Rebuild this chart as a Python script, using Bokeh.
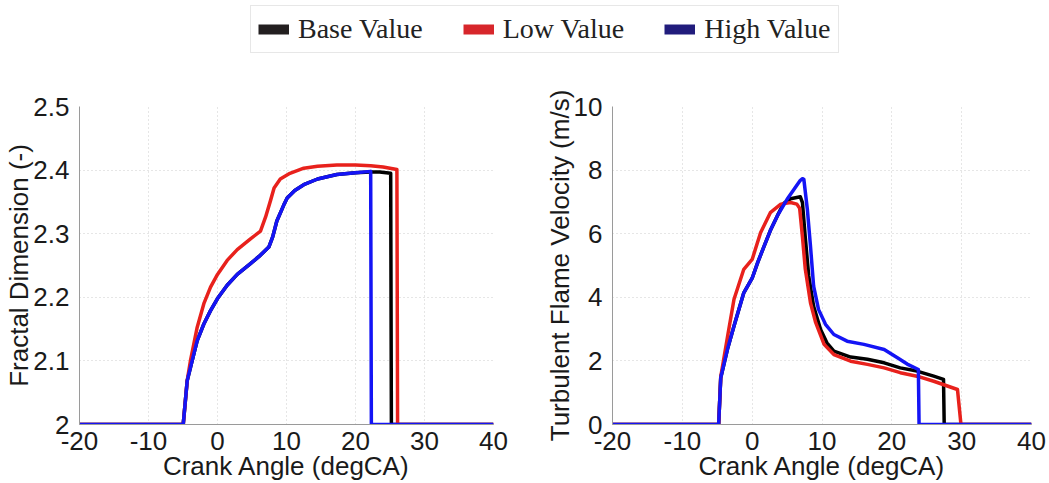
from bokeh.plotting import figure
from bokeh.layouts import column, row
from bokeh.models import Range1d, Legend, LegendItem, FixedTicker
from bokeh.embed import file_html
from bokeh.resources import INLINE

# ---------------- data ----------------
series_names = ["Base Value", "Low Value", "High Value"]
line_colors = ["#000000", "#e8211c", "#1414f5"]
legend_colors = ["#231f20", "#d7262b", "#211c7c"]

# Fractal dimension (left)
fd_base_x = [-20, -4.97, -4.39, -3.91, -2.94, -1.98, -1.01, 0, 1.4, 2.86, 4.78, 6.2, 7.44, 8.0, 8.6, 9.6, 10.1, 11.2, 12.5, 14.5, 17.3, 20, 22.2, 23.5, 25.1, 25.2, 40]
fd_base_y = [2, 2, 2.069, 2.09, 2.132, 2.158, 2.179, 2.198, 2.219, 2.236, 2.253, 2.266, 2.279, 2.295, 2.32, 2.345, 2.356, 2.368, 2.377, 2.386, 2.393, 2.396, 2.397, 2.397, 2.395, 2, 2]
fd_low_x = [-20, -4.97, -4.39, -3.91, -2.94, -1.98, -1.01, 0, 1.4, 2.86, 4.78, 6.23, 6.96, 7.68, 8.2, 9.1, 10.5, 12.5, 14.5, 17.3, 20, 22.2, 24, 26.0, 26.1, 40]
fd_low_y = [2, 2, 2.069, 2.101, 2.153, 2.19, 2.216, 2.236, 2.258, 2.275, 2.292, 2.304, 2.326, 2.352, 2.372, 2.386, 2.395, 2.403, 2.406, 2.408, 2.408, 2.407, 2.405, 2.401, 2, 2]
fd_high_x = [-20, -4.97, -4.39, -3.91, -2.94, -1.98, -1.01, 0, 1.4, 2.86, 4.78, 6.2, 7.44, 8.0, 8.6, 9.6, 10.1, 11.2, 12.5, 14.5, 17.3, 20, 22.2, 22.3, 40]
fd_high_y = [2, 2, 2.069, 2.09, 2.132, 2.158, 2.179, 2.198, 2.219, 2.236, 2.253, 2.266, 2.279, 2.295, 2.32, 2.345, 2.356, 2.368, 2.377, 2.386, 2.393, 2.396, 2.398, 2, 2]

# Turbulent flame velocity (right)
tv_base_x = [-20, -4.8, -4.5, -3.5, -2.6, -1.2, 0, 0.8, 1.7, 2.6, 3.6, 4.5, 5.5, 6.9, 7.2, 7.6, 8.1, 8.8, 9.8, 10.7, 11.7, 14.1, 16.5, 18.9, 21.2, 23.6, 26, 27.4, 27.5, 40]
tv_base_y = [0, 0, 1.47, 2.4, 3.1, 4.14, 4.6, 5.1, 5.6, 6.1, 6.56, 6.95, 7.1, 7.16, 6.98, 5.9, 4.67, 3.72, 2.99, 2.57, 2.31, 2.12, 2.05, 1.94, 1.78, 1.68, 1.52, 1.42, 0, 0]
tv_low_x = [-20, -4.8, -4.5, -3.5, -2.6, -1.2, 0, 1.2, 2.6, 4.1, 5.5, 6.4, 6.8, 7.2, 7.6, 8.35, 9.1, 10.3, 11.7, 14.1, 16.5, 18.9, 21.2, 23.6, 26, 29.4, 29.9, 40]
tv_low_y = [0, 0, 1.5, 2.8, 3.94, 4.88, 5.19, 6.03, 6.66, 6.93, 6.98, 6.93, 6.8, 5.9, 4.9, 3.83, 3.2, 2.52, 2.2, 1.99, 1.89, 1.78, 1.63, 1.52, 1.36, 1.1, 0, 0]
tv_high_x = [-20, -4.8, -4.5, -3.5, -2.6, -1.2, 0, 0.8, 1.7, 2.6, 3.6, 5.0, 6.0, 6.9, 7.2, 7.4, 7.9, 8.35, 8.8, 9.5, 10.5, 11.7, 13.6, 16.0, 18.9, 20.8, 22.2, 23.8, 23.9, 40]
tv_high_y = [0, 0, 1.47, 2.4, 3.1, 4.14, 4.6, 5.1, 5.6, 6.1, 6.56, 7.08, 7.4, 7.68, 7.73, 7.71, 6.77, 5.61, 4.35, 3.62, 3.15, 2.83, 2.62, 2.52, 2.36, 2.1, 1.9, 1.73, 0, 0]

x_ticks = [-20, -10, 0, 10, 20, 30, 40]
x_tick_labels = ["-20", "-10", "0", "10", "20", "30", "40"]
fd_ticks = [2.0, 2.1, 2.2, 2.3, 2.4, 2.5]
fd_tick_labels = ["2", "2.1", "2.2", "2.3", "2.4", "2.5"]
tv_ticks = [0, 2, 4, 6, 8, 10]
tv_tick_labels = ["0", "2", "4", "6", "8", "10"]

FONT = "Liberation Sans"


def style(p, xlabel, ylabel, yticks, ylabels):
    p.outline_line_color = None
    for ax in (p.xaxis, p.yaxis):
        ax.axis_line_color = "#9a9a9a"
        ax.axis_line_width = 1
        ax.major_tick_line_color = None
        ax.minor_tick_line_color = None
        ax.major_label_text_font = FONT
        ax.major_label_text_font_size = "26px"
        ax.major_label_text_color = "#1a1a1a"
        ax.axis_label_text_font = FONT
        ax.axis_label_text_font_size = "26px"
        ax.axis_label_text_font_style = "normal"
        ax.axis_label_text_color = "#1a1a1a"
    p.xaxis.axis_label = xlabel
    p.yaxis.axis_label = ylabel
    p.xaxis.ticker = FixedTicker(ticks=x_ticks)
    p.xaxis.major_label_overrides = dict(zip(x_ticks, x_tick_labels))
    p.yaxis.ticker = FixedTicker(ticks=yticks)
    p.yaxis.major_label_overrides = dict(zip(yticks, ylabels))
    p.xaxis.major_label_standoff = 1
    p.xaxis.axis_label_standoff = -2
    p.yaxis.major_label_standoff = 4
    p.yaxis.axis_label_standoff = -4
    for g in (p.xgrid, p.ygrid):
        g.grid_line_color = "#cccccc"
        g.grid_line_dash = "1 3"
        g.grid_line_width = 1


# ---------------- left ----------------
p1 = figure(width=540, height=423, output_backend="svg", toolbar_location=None,
            x_range=Range1d(-20, 40), y_range=Range1d(2, 2.5),
            min_border_left=79, min_border_right=47, min_border_top=46, min_border_bottom=59)
style(p1, "Crank Angle (degCA)", "Fractal Dimension (-)", fd_ticks, fd_tick_labels)
for xs, ys, c in [(fd_base_x, fd_base_y, line_colors[0]),
                  (fd_low_x, fd_low_y, line_colors[1]),
                  (fd_high_x, fd_high_y, line_colors[2])]:
    p1.line(xs, ys, line_color=c, line_width=3.5, line_join="round")

# ---------------- right ----------------
p2 = figure(width=509, height=423, output_backend="svg", toolbar_location=None,
            x_range=Range1d(-20, 40), y_range=Range1d(0, 10),
            min_border_left=72, min_border_right=18, min_border_top=46, min_border_bottom=59)
style(p2, "Crank Angle (degCA)", "Turbulent Flame Velocity (m/s)", tv_ticks, tv_tick_labels)
for xs, ys, c in [(tv_base_x, tv_base_y, line_colors[0]),
                  (tv_low_x, tv_low_y, line_colors[1]),
                  (tv_high_x, tv_high_y, line_colors[2])]:
    p2.line(xs, ys, line_color=c, line_width=3.5, line_join="round")

# ---------------- legend strip ----------------
pl = figure(width=1049, height=60, output_backend="svg", toolbar_location=None,
            x_range=Range1d(0, 1), y_range=Range1d(0, 1), x_axis_type=None, y_axis_type=None,
            min_border=0)
pl.outline_line_color = None
pl.xgrid.visible = False
pl.ygrid.visible = False
items = []
for name, c in zip(series_names, legend_colors):
    r = pl.line([-10, -9], [-10, -10], line_color=c, line_width=10)
    items.append(LegendItem(label=name, renderers=[r]))
leg = Legend(items=items, orientation="horizontal", location=(250, 7),
             label_text_font="Liberation Serif", label_text_font_size="28px",
             label_text_color="#222222", glyph_width=31, glyph_height=20,
             label_standoff=9, spacing=40, padding=7, margin=0,
             border_line_color="#cfcfcf", border_line_width=1.5)
pl.add_layout(leg, "center")

layout = column(pl, row(p1, p2, spacing=0), spacing=0)
open("out.html", "w").write(file_html(layout, INLINE))
